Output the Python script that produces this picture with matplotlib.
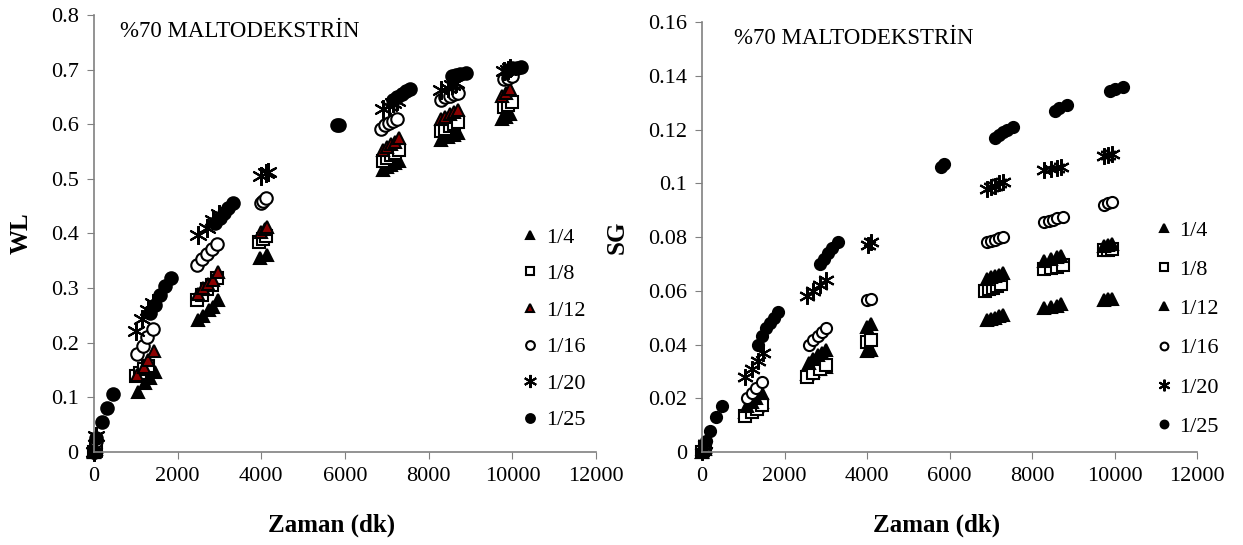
import matplotlib
matplotlib.use("Agg")
import matplotlib.pyplot as plt

plt.rcParams['font.family'] = ['Liberation Serif', 'DejaVu Serif']

series = ['1/4', '1/8', '1/12', '1/16', '1/20', '1/25']
title_text = '%70 MALTODEKSTRİN'

# left panel: WL vs time (dk)
wl_t = {
    '1/4': [0, 60, 1050, 1210, 1330, 1450, 2490, 2610, 2740, 2850, 2970, 3960, 4130,
            6900, 7000, 7100, 7200, 7280, 8300, 8450, 8600, 8700, 9750, 9850, 9950],
    '1/8': [0, 60, 1000, 1100, 1200, 1300, 2470, 2590, 2710, 2830, 2950, 3950, 4050, 4120,
            6900, 7000, 7100, 7200, 7280, 8300, 8400, 8500, 8600, 8700, 9800, 9900, 9980],
    '1/12': [0, 60, 1030, 1190, 1290, 1430, 2490, 2610, 2730, 2850, 2970, 4000, 4080, 4130,
             6900, 7000, 7100, 7200, 7280, 8300, 8400, 8500, 8600, 8700, 9750, 9850, 9950],
    '1/16': [0, 60, 1020, 1170, 1270, 1410, 2470, 2590, 2710, 2830, 2950, 4000, 4050, 4120,
             6850, 6950, 7050, 7150, 7250, 8300, 8400, 8500, 8600, 8700, 9800, 9900, 9980],
    '1/20': [0, 60, 1000, 1150, 1280, 1400, 2480, 2690, 2840, 2980, 4000, 4100, 4150,
             6900, 7050, 7150, 7250, 8300, 8450, 8550, 8650, 9800, 9900, 9950],
    '1/25': [0, 60, 200, 300, 460, 1350, 1450, 1580, 1690, 1830, 2900, 3000, 3100, 3200, 3320,
             5800, 5850, 7150, 7250, 7350, 7450, 7550, 8550, 8650, 8750, 8900,
             9900, 10000, 10100, 10200],
}
wl_v = {
    '1/4': [0, 0.005, 0.11, 0.126, 0.135, 0.147, 0.242, 0.249, 0.26, 0.266, 0.278, 0.355, 0.36,
            0.517, 0.521, 0.525, 0.529, 0.533, 0.572, 0.576, 0.58, 0.584, 0.61, 0.614, 0.618],
    '1/8': [0, 0.008, 0.14, 0.145, 0.152, 0.158, 0.278, 0.288, 0.298, 0.306, 0.318, 0.385, 0.39, 0.395,
            0.533, 0.538, 0.543, 0.548, 0.553, 0.588, 0.592, 0.596, 0.6, 0.604, 0.632, 0.636, 0.64],
    '1/12': [0, 0.01, 0.141, 0.156, 0.168, 0.184, 0.29, 0.3, 0.308, 0.315, 0.329, 0.403, 0.408, 0.412,
             0.553, 0.558, 0.563, 0.568, 0.574, 0.61, 0.614, 0.618, 0.622, 0.626, 0.652, 0.658, 0.664],
    '1/16': [0, 0.02, 0.179, 0.194, 0.211, 0.226, 0.342, 0.353, 0.362, 0.371, 0.38, 0.455, 0.46, 0.465,
             0.592, 0.598, 0.602, 0.606, 0.61, 0.645, 0.65, 0.652, 0.655, 0.658, 0.682, 0.685, 0.688],
    '1/20': [0, 0.03, 0.222, 0.243, 0.26, 0.273, 0.397, 0.41, 0.425, 0.435, 0.505, 0.51, 0.513,
             0.628, 0.633, 0.638, 0.642, 0.662, 0.667, 0.672, 0.676, 0.698, 0.70, 0.702],
    '1/25': [0, 0.025, 0.055, 0.08, 0.107, 0.255, 0.27, 0.288, 0.303, 0.318, 0.42, 0.428, 0.437, 0.446, 0.455,
             0.598, 0.599, 0.645, 0.65, 0.655, 0.66, 0.665, 0.688, 0.69, 0.692, 0.694,
             0.70, 0.702, 0.703, 0.705],
}

# right panel: SG vs time (dk)
sg_t = {
    '1/4': [0, 60, 1050, 1200, 1330, 1450, 2550, 2700, 2850, 3000, 4000, 4100,
            6900, 7000, 7100, 7200, 7300, 8300, 8450, 8600, 8700, 9750, 9850, 9950],
    '1/8': [0, 60, 1050, 1200, 1330, 1450, 2550, 2700, 2850, 3000, 4000, 4100,
            6850, 6950, 7050, 7150, 7250, 8300, 8450, 8600, 8750, 9750, 9850, 9950],
    '1/12': [0, 60, 1100, 1200, 1320, 1450, 2600, 2700, 2800, 2900, 3000, 4000, 4100,
             6900, 7000, 7100, 7200, 7300, 8300, 8450, 8600, 8700, 9750, 9850, 9950],
    '1/16': [0, 60, 1100, 1200, 1320, 1450, 2600, 2700, 2800, 2900, 3000, 4000, 4100,
             6900, 7000, 7100, 7200, 7300, 8300, 8400, 8500, 8600, 8750, 9750, 9850, 9950],
    '1/20': [0, 60, 1050, 1200, 1350, 1480, 2550, 2700, 2850, 3000, 4030, 4100,
             6900, 7000, 7100, 7200, 7300, 8300, 8450, 8600, 8700, 9750, 9850, 9950],
    '1/25': [0, 100, 200, 350, 480, 1350, 1450, 1550, 1650, 1750, 1850, 2850, 2950, 3050, 3150, 3300,
             5800, 5870, 7100, 7200, 7300, 7400, 7550, 8550, 8650, 8850, 9900, 10000, 10200],
}
sg_v = {
    '1/4': [0, 0.001, 0.015, 0.016, 0.017, 0.0185, 0.029, 0.030, 0.0308, 0.0315, 0.0375, 0.038,
            0.049, 0.0495, 0.050, 0.0505, 0.051, 0.0535, 0.054, 0.0545, 0.055, 0.0565, 0.057, 0.057],
    '1/8': [0, 0.001, 0.0135, 0.015, 0.016, 0.0175, 0.028, 0.0295, 0.031, 0.0325, 0.041, 0.0415,
            0.060, 0.0605, 0.061, 0.0618, 0.0625, 0.068, 0.0685, 0.069, 0.0695, 0.075, 0.0752, 0.0755],
    '1/12': [0, 0.002, 0.017, 0.0185, 0.020, 0.022, 0.033, 0.0345, 0.036, 0.037, 0.038, 0.0465, 0.0475,
             0.0645, 0.065, 0.0655, 0.066, 0.0665, 0.071, 0.072, 0.0725, 0.073, 0.0765, 0.077, 0.0775],
    '1/16': [0, 0.002, 0.020, 0.022, 0.024, 0.026, 0.040, 0.0415, 0.043, 0.0445, 0.046, 0.0565, 0.057,
             0.078, 0.0785, 0.079, 0.0795, 0.080, 0.0855, 0.086, 0.0865, 0.087, 0.0875, 0.092, 0.0925, 0.093],
    '1/20': [0, 0.003, 0.028, 0.031, 0.034, 0.037, 0.058, 0.060, 0.062, 0.064, 0.077, 0.078,
             0.098, 0.0985, 0.099, 0.100, 0.1005, 0.105, 0.1052, 0.1055, 0.106, 0.110, 0.1105, 0.111],
    '1/25': [0, 0.004, 0.008, 0.013, 0.017, 0.040, 0.043, 0.046, 0.048, 0.050, 0.052, 0.070, 0.072, 0.074,
             0.076, 0.078, 0.106, 0.107, 0.117, 0.118, 0.119, 0.120, 0.121, 0.127, 0.128, 0.129,
             0.1345, 0.135, 0.136],
}

styles_left = {
    '1/4': dict(marker='^', mfc='black', mec='black'),
    '1/8': dict(marker='s', mfc='white', mec='black'),
    '1/12': dict(marker='^', mfc='#8b0000', mec='black'),
    '1/16': dict(marker='o', mfc='white', mec='black'),
    '1/20': dict(marker=(6, 2, 0), mfc='black', mec='black'),
    '1/25': dict(marker='o', mfc='black', mec='black'),
}
styles_right = dict(styles_left)
styles_right['1/12'] = dict(marker='^', mfc='black', mec='black')

fig = plt.figure(figsize=(12.43, 5.45), dpi=100)
ax1 = fig.add_axes([0.0756, 0.1706, 0.404, 0.802])
ax2 = fig.add_axes([0.5648, 0.1706, 0.3982, 0.789])


def draw(ax, tt, vv, styles, ms, ylim, yticks, ylabel, ylab_x, xlab_y, leg_anchor, leg_space, title_x):
    for s in series:
        size = ms * 1.5 if s == '1/20' else ms
        ax.plot(tt[s], vv[s], linestyle='none', ms=size, mew=1.5, label=s, **styles[s])
    ax.set_xlim(0, 12000)
    ax.set_ylim(*ylim)
    ax.set_xticks(range(0, 12001, 2000))
    ax.set_yticks(yticks)
    ax.set_yticklabels([f'{y:g}' for y in yticks])
    for side in ['top', 'right']:
        ax.spines[side].set_visible(False)
    for side in ['left', 'bottom']:
        ax.spines[side].set_color('#808080')
        ax.spines[side].set_linewidth(1.2)
    ax.tick_params(direction='out', length=5, color='#808080', labelsize=16, pad=6)
    ax.set_xlabel('Zaman (dk)', fontsize=18, fontweight='bold', va='center')
    ax.xaxis.set_label_coords(0.473, xlab_y)
    ax.set_ylabel(ylabel, fontsize=18, fontweight='bold', va='center')
    ax.yaxis.set_label_coords(ylab_x, 0.5)
    ax.text(title_x, 0.985, title_text, transform=ax.transAxes, fontsize=16.5, va='top')
    ax.legend(loc='upper left', bbox_to_anchor=leg_anchor, frameon=False, fontsize=16,
              markerscale=0.7, handletextpad=0.1, handlelength=1.2, labelspacing=leg_space,
              borderpad=0)
    for l in ax.lines:
        l.set_clip_on(False)


draw(ax1, wl_t, wl_v, styles_left, 9, (0, 0.8), [0, 0.1, 0.2, 0.3, 0.4, 0.5, 0.6, 0.7, 0.8],
     'WL', -0.146, -0.167, (0.82, 0.54), 0.72, 0.052)
draw(ax2, sg_t, sg_v, styles_right, 8, (0, 0.16), [0, 0.02, 0.04, 0.06, 0.08, 0.1, 0.12, 0.14, 0.16],
     'SG', -0.172, -0.17, (0.883, 0.565), 0.84, 0.065)

fig.savefig('out.png', dpi=100)
